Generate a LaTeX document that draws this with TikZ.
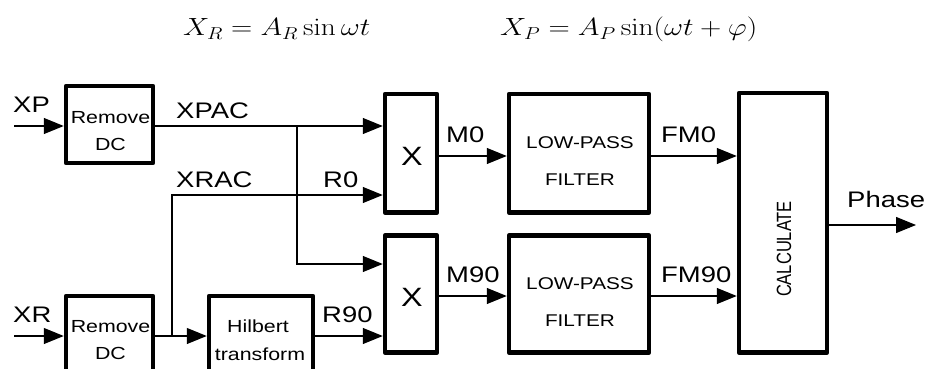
\documentclass[tikz,border=0pt]{standalone}
\usepackage[no-math]{fontspec}
\setmainfont{Liberation Sans}[FakeStretch=1.22]
\newfontfamily\plainsans{Liberation Sans}
\usetikzlibrary{arrows.meta}
\begin{document}
\begin{tikzpicture}[x=1pt,y=-1pt,
  blk/.style={draw, rectangle, line width=4.5pt, line join=round, inner sep=0pt},
  sig/.style={line width=1.2pt, -{Triangle[length=20pt,width=16pt]}},
  lbl/.style={anchor=base west, inner sep=0pt, font=\fontsize{22.5}{26}\selectfont},
  btxt/.style={anchor=base, inner sep=0pt, font=\fontsize{17.5}{20}\selectfont},
  eqn/.style={anchor=base west, inner sep=0pt}]
\useasboundingbox (0,0) rectangle (927,369);
% equations
\node[eqn] (eq1) at (183,36) {\resizebox{187pt}{\height}{\fontsize{26}{30}\selectfont$X_R = A_R\sin\omega t$}};
\node[eqn] (eq2) at (500,36) {\resizebox{257pt}{\height}{\fontsize{26}{30}\selectfont$X_P = A_P\sin(\omega t+\varphi)$}};
% blocks
\node[blk, minimum width=87pt, minimum height=77pt] (rdc1) at (109.5,124.5) {};
\node[blk, minimum width=87pt, minimum height=77pt] (rdc2) at (109.5,334.5) {};
\node[blk, minimum width=104pt, minimum height=77pt] (hil) at (261,334.5) {};
\node[blk, minimum width=52pt, minimum height=118.5pt] (x1) at (411,153.25) {};
\node[blk, minimum width=52pt, minimum height=117pt] (x2) at (411,294) {};
\node[blk, minimum width=140pt, minimum height=118.5pt] (lpf1) at (579,153.25) {};
\node[blk, minimum width=140pt, minimum height=117pt] (lpf2) at (579,294) {};
\node[blk, minimum width=88pt, minimum height=259.5pt] (calc) at (783,222.75) {};
% block texts
\node[btxt] (t1a) at (110.5,123) {Remove};
\node[btxt] (t1b) at (110.5,150) {DC};
\node[btxt] (t2a) at (110.5,332) {Remove};
\node[btxt] (t2b) at (110.5,359) {DC};
\node[btxt] (t3a) at (258,332) {Hilbert};
\node[btxt] (t3b) at (260,360) {transform};
\node[anchor=base, inner sep=0pt, font=\fontsize{26.5}{30}\selectfont] (t4) at (412,165) {X};
\node[anchor=base, inner sep=0pt, font=\fontsize{26.5}{30}\selectfont] (t5) at (412,306) {X};
\node[btxt, font=\fontsize{17}{20}\selectfont] (t6a) at (580,148) {LOW-PASS};
\node[btxt, font=\fontsize{17}{20}\selectfont] (t6b) at (580,185) {FILTER};
\node[btxt, font=\fontsize{17}{20}\selectfont] (t7a) at (580,289.5) {LOW-PASS};
\node[btxt, font=\fontsize{17}{20}\selectfont] (t7b) at (580,326.5) {FILTER};
\node[rotate=90, inner sep=0pt, font=\plainsans\fontsize{16.5}{20}\selectfont] (t8) at (784,249) {\scalebox{1}[1.25]{CALCULATE}};
% signal labels
\node[lbl] (lxp) at (13,112) {XP};
\node[lbl] (lxpac) at (176,118) {XPAC};
\node[lbl] (lxrac) at (176,187) {XRAC};
\node[lbl] (lr0) at (323,187) {R0};
\node[lbl] (lxr) at (13,322) {XR};
\node[lbl] (lr90) at (322,322) {R90};
\node[lbl] (lm0) at (446,142) {M0};
\node[lbl] (lm90) at (446,282) {M90};
\node[lbl] (lfm0) at (661,142) {FM0};
\node[lbl] (lfm90) at (661,282) {FM90};
\node[lbl] (lph) at (847,207) {Phase};
% coordinates
\coordinate (xpin) at (14,126);
\coordinate (xrin) at (14,336);
\coordinate (jp) at (297,126);
\coordinate (jp2) at (297,264);
\coordinate (jr) at (172,336);
\coordinate (jr2) at (172,195);
\coordinate (ym0) at (0,156);
\coordinate (ym90) at (0,296);
\coordinate (phout) at (916,225);
% connectors
\draw[sig] (xpin) -- (xpin -| rdc1.west);
\draw[sig] (rdc1.east |- xpin) -- (xpin -| x1.west);
\draw[sig] (jp) -- (jp2) -- (jp2 -| x2.west);
\draw[sig] (xrin) -- (xrin -| rdc2.west);
\draw[sig] (rdc2.east |- xrin) -- (xrin -| hil.west);
\draw[sig] (jr) -- (jr2) -- (jr2 -| x1.west);
\draw[sig] (hil.east |- xrin) -- (xrin -| x2.west);
\draw[sig] (x1.east |- ym0) -- (lpf1.west |- ym0);
\draw[sig] (x2.east |- ym90) -- (lpf2.west |- ym90);
\draw[sig] (lpf1.east |- ym0) -- (calc.west |- ym0);
\draw[sig] (lpf2.east |- ym90) -- (calc.west |- ym90);
\draw[sig] (calc.east |- phout) -- (phout);
\end{tikzpicture}
\end{document}
